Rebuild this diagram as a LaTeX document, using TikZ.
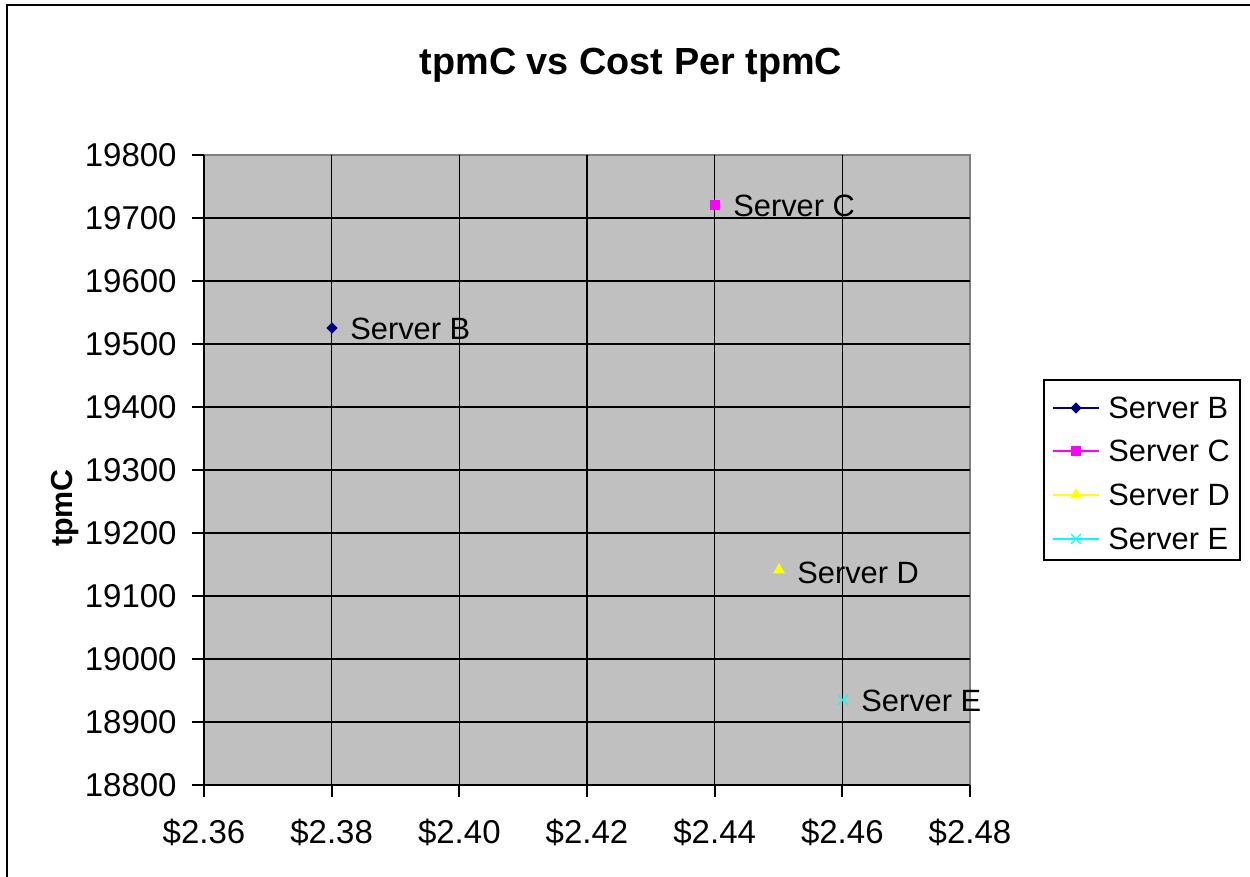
\documentclass[tikz,border=0pt]{standalone}
\usepackage{fontspec}
\setmainfont{Liberation Sans}
\usetikzlibrary{shapes.geometric}
\definecolor{plotgray}{HTML}{C0C0C0}
\definecolor{edgegray}{HTML}{808080}
\definecolor{srvB}{HTML}{000080}
\definecolor{srvC}{HTML}{FF00FF}
\definecolor{srvD}{HTML}{FFFF00}
\definecolor{srvE}{HTML}{00FFFF}
\begin{document}
\begin{tikzpicture}[x=0.5pt,y=-0.5pt,
  gridline/.style={black,line width=0.75pt},
  axisline/.style={black,line width=1pt},
  ticklabel/.style={font=\fontsize{16.5}{20}\selectfont,inner sep=0pt},
  datalabel/.style={font=\fontsize{15.4}{18}\selectfont,inner sep=0pt,anchor=west},
  legendtext/.style={font=\fontsize{15.4}{18}\selectfont,inner sep=0pt,anchor=west},
  mkB/.style={diamond,fill=srvB,inner sep=0pt,minimum size=5.8pt},
  mkC/.style={rectangle,fill=srvC,inner sep=0pt,minimum size=5pt},
  mkD/.style={regular polygon,regular polygon sides=3,fill=srvD,inner sep=0pt,minimum size=6.8pt},
  mkE/.style={inner sep=0pt,minimum size=5pt,
    path picture={\draw[srvE,line width=0.6pt]
      (path picture bounding box.north west) -- (path picture bounding box.south east)
      (path picture bounding box.south west) -- (path picture bounding box.north east);}},
]
\useasboundingbox (0,0) rectangle (1250,877);

% chart frame (left and top edges)
\draw[black,line width=1pt] (7,877) -- (7,5) -- (1250,5);

% plot area
\fill[plotgray] (204,155) rectangle (970,785);
\draw[edgegray,line width=0.75pt] (204,155) -- (970,155) -- (970,785);

% grid
\foreach \i in {1,...,5} {
  \pgfmathsetmacro{\gx}{204+\i*127.667}
  \draw[gridline] (\gx,155) -- (\gx,785);
}
\foreach \j in {1,...,9} {
  \pgfmathsetmacro{\gy}{155+\j*63}
  \draw[gridline] (204,\gy) -- (970,\gy);
}

% axes and ticks
\draw[axisline] (204,155) -- (204,785) -- (970,785);
\foreach \j in {0,...,10} {
  \pgfmathsetmacro{\gy}{155+\j*63}
  \draw[axisline] (192,\gy) -- (204,\gy);
}
\foreach \i in {0,...,6} {
  \pgfmathsetmacro{\gx}{204+\i*127.667}
  \draw[axisline] (\gx,785) -- (\gx,797);
}

% y tick labels
\foreach \v [count=\j from 0] in {19800,19700,19600,19500,19400,19300,19200,19100,19000,18900,18800} {
  \pgfmathsetmacro{\gy}{155+\j*63}
  \node[ticklabel,anchor=east] (yt\j) at (177,\gy) {\v};
}
% x tick labels
\foreach \v [count=\i from 0] in {2.36,2.38,2.40,2.42,2.44,2.46,2.48} {
  \pgfmathsetmacro{\gx}{204+\i*127.667}
  \node[ticklabel] (xt\i) at (\gx,832) {\$\v};
}

% titles
\node[font=\bfseries\fontsize{18.9}{22}\selectfont,inner sep=0pt] (title) at (631,65) {tpmC vs Cost Per tpmC};
\node[font=\bfseries\fontsize{15.2}{18}\selectfont,inner sep=0pt,rotate=90] (ylab) at (65,508) {tpmC};

% data points
\node[mkB] (pB) at (332,328) {};
\node[mkC] (pC) at (715,205) {};
\node[mkD] (pD) at (779,570) {};
\node[mkE] (pE) at (843,700) {};
\node[datalabel] (lB) at (350,329) {Server B};
\node[datalabel] (lC) at (733,206) {Server C};
\node[datalabel] (lD) at (797,573) {Server D};
\node[datalabel] (lE) at (861,701) {Server E};

% legend
\draw[black,line width=0.75pt,fill=white] (1044,380) rectangle (1240,560);
\foreach \n/\c/\yy in {B/srvB/408,C/srvC/451,D/srvD/495,E/srvE/539} {
  \draw[\c,line width=0.75pt] (1053,\yy) -- (1099,\yy);
  \node[mk\n] (lgm\n) at (1076,\yy) {};
  \node[legendtext] (lgt\n) at (1108,\yy) {Server \n};
}
\end{tikzpicture}
\end{document}
